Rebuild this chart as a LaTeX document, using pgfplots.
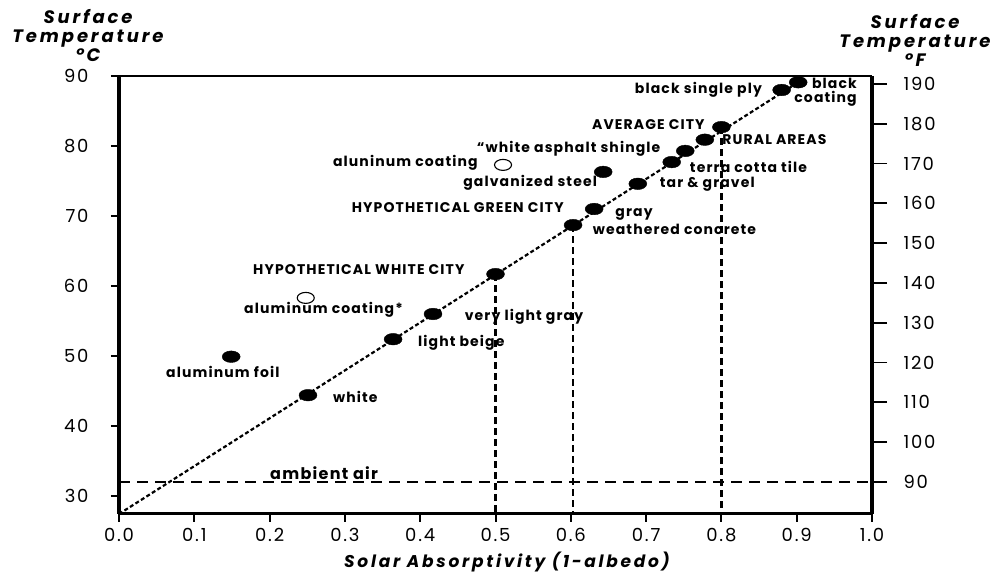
\documentclass[border=0pt]{standalone}
\usepackage{fontspec}
\setmainfont{Poppins}
\newfontfamily\labf{Poppins}[LetterSpace=8]
\newfontfamily\tickf{Poppins}[LetterSpace=10]
\newfontfamily\ttlf{Poppins}[LetterSpace=16]
\usepackage{pgfplots}
\pgfplotsset{compat=1.18}
\newcommand\lab{\labf\fontsize{14}{14}\selectfont\bfseries}
\newcommand\tck{\tickf\fontsize{18}{18}\selectfont}
\newcommand\ttl{\ttlf\fontsize{18}{19}\selectfont\bfseries\itshape}
\begin{document}
\begin{tikzpicture}[x=1pt,y=1pt]
\useasboundingbox (0,0) rectangle (995,572);
\begin{axis}[
  at={(119pt,58pt)}, anchor=south west, scale only axis,
  width=753pt, height=438pt,
  xmin=0, xmax=1, ymin=27.43, ymax=90,
  clip=false,
  axis line style={draw=none},
  xtick pos=bottom, ytick pos=left,
  tick align=outside, major tick length=8pt,
  tick style={black, line width=1.5pt},
  x tick style={line width=2pt},
  xtick={0,0.1,0.2,0.3,0.4,0.5,0.6,0.7,0.8,0.9,1.0},
  ytick={30,40,50,60,70,80,90},
  /pgf/number format/assume math mode=true,
  xticklabel style={font=\tck, /pgf/number format/.cd, fixed, fixed zerofill, precision=1},
  yticklabel style={font=\tck},
  xticklabel shift=3pt, yticklabel shift=19pt,
]
% regression line
\addplot[black, line width=2.2pt, dash pattern=on 4pt off 2.5pt] coordinates {(0,27.43) (0.902,89.1)};
% vertical drop lines
\addplot[black, line width=2.2pt, dash pattern=on 7pt off 4pt] coordinates {(0.5,61.7) (0.5,27.43)};
\addplot[black, line width=2.2pt, dash pattern=on 7pt off 4pt] coordinates {(0.603,68.7) (0.603,27.43)};
\addplot[black, line width=2.2pt, dash pattern=on 7pt off 4pt] coordinates {(0.8,82.7) (0.8,27.43)};
% ambient air
\addplot[black, line width=1.3pt, dash pattern=on 11pt off 7pt] coordinates {(0,32.0) (1,32.0)};
% filled points
\addplot[only marks, mark=*, mark size=5.8pt, mark options={xscale=1.55, fill=black, draw=black}] coordinates {
(0.251,44.4) (0.364,52.4) (0.417,56.0) (0.5,61.7) (0.149,49.9)
(0.603,68.7) (0.631,71.0) (0.643,76.3) (0.689,74.6) (0.734,77.7)
(0.752,79.3) (0.778,80.9) (0.8,82.7) (0.880,88.0) (0.902,89.1)};
% open points
\addplot[only marks, mark=o, mark size=5.5pt, mark options={xscale=1.55, fill=white, draw=black, line width=1.1pt}] coordinates {
(0.248,58.3) (0.51,77.3)};
% borders
\draw[line width=3.5pt] (rel axis cs:0,0) -- (rel axis cs:0,1);
\draw[line width=3.5pt] (rel axis cs:1,0) -- (rel axis cs:1,1);
\draw[line width=3pt] (rel axis cs:0,0) -- (rel axis cs:1,0);
\draw[line width=1.5pt] (rel axis cs:0,1) -- (rel axis cs:1,1);
% labels
\node[anchor=east, inner sep=0, font=\lab] at (axis cs:0.854,88.0) {black single ply};
\node[anchor=east, inner sep=0, font=\lab, align=right] at (axis cs:0.980,87.7) {black\\coating};
\node[anchor=east, inner sep=0, font=\lab] at (axis cs:0.778,83.0) {AVERAGE CITY};
\node[anchor=west, inner sep=0, font=\lab] at (axis cs:0.801,80.86) {RURAL AREAS};
\node[anchor=west, inner sep=0, font=\lab] at (axis cs:0.475,79.57) {“white asphalt shingle};
\node[anchor=west, inner sep=0, font=\lab] at (axis cs:0.284,77.57) {aluninum coating};
\node[anchor=west, inner sep=0, font=\lab] at (axis cs:0.758,77.0) {terra cotta tile};
\node[anchor=west, inner sep=0, font=\lab] at (axis cs:0.457,74.71) {galvanized steel};
\node[anchor=west, inner sep=0, font=\lab] at (axis cs:0.718,74.57) {tar \& gravel};
\node[anchor=west, inner sep=0, font=\lab] at (axis cs:0.309,71.14) {HYPOTHETICAL GREEN CITY};
\node[anchor=west, inner sep=0, font=\lab] at (axis cs:0.659,70.29) {gray};
\node[anchor=west, inner sep=0, font=\lab] at (axis cs:0.629,68.14) {weathered concrete};
\node[anchor=west, inner sep=0, font=\lab] at (axis cs:0.178,62.29) {HYPOTHETICAL WHITE CITY};
\node[anchor=west, inner sep=0, font=\lab] at (axis cs:0.166,56.57) {aluminum coating*};
\node[anchor=west, inner sep=0, font=\lab] at (axis cs:0.459,55.57) {very light gray};
\node[anchor=west, inner sep=0, font=\lab] at (axis cs:0.397,51.86) {light beige};
\node[anchor=west, inner sep=0, font=\lab] at (axis cs:0.0624,47.71) {aluminum foil};
\node[anchor=west, inner sep=0, font=\lab] at (axis cs:0.284,44.14) {white};
\node[anchor=west, inner sep=0, font=\labf\fontsize{16}{16}\selectfont\bfseries] at (axis cs:0.2005,33.3) {ambient air};
\end{axis}
\begin{axis}[
  at={(119pt,58pt)}, anchor=south west, scale only axis,
  width=753pt, height=438pt,
  xmin=0, xmax=1, ymin=81.96, ymax=192,
  axis line style={draw=none},
  xtick=\empty, ytick pos=right,
  tick align=outside, major tick length=15pt,
  tick style={black, line width=1.8pt},
  ytick={90,100,110,120,130,140,150,160,170,180,190},
  /pgf/number format/assume math mode=true,
  yticklabel style={font=\tck, anchor=west},
  yticklabel shift=13pt,
]
\addplot[draw=none] coordinates {(0,100) (1,100)};
\end{axis}
% titles
\node[font=\ttl, align=center] at (88,572-35) {Surface\\Temperature\\°C};
\node[font=\ttl, align=center] at (915,572-40) {Surface\\Temperature\\°F};
\node[font=\ttlf\fontsize{17}{17}\selectfont\bfseries\itshape] at (507,572-562) {Solar Absorptivity (1-albedo)};
\end{tikzpicture}
\end{document}
